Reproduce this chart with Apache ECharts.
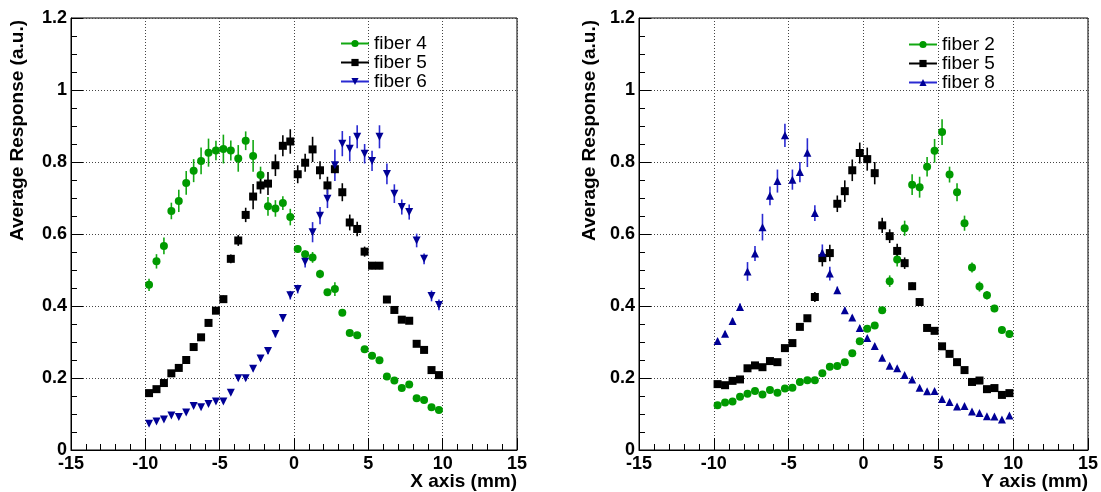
<!DOCTYPE html>
<html>
<head>
<meta charset="utf-8">
<script src="https://cdn.jsdelivr.net/npm/echarts@6/dist/echarts.min.js"></script>
<style>html,body{margin:0;padding:0;background:#fff;}#c{width:1101px;height:492px;}</style>
</head>
<body>
<div id="c"></div>
<script>
// positions (mm) of the measurement points
const xPos = [-9.75,-9.25,-8.75,-8.25,-7.75,-7.25,-6.75,-6.25,-5.75,-5.25,-4.75,-4.25,-3.75,-3.25,-2.75,-2.25,-1.75,-1.25,-0.75,-0.25,
              0.25,0.75,1.25,1.75,2.25,2.75,3.25,3.75,4.25,4.75,5.25,5.75,6.25,6.75,7.25,7.75,8.25,8.75,9.25,9.75];
const xTicks = [-15,-10,-5,0,5,10,15];
const yTicks = [0,0.2,0.4,0.6,0.8,1,1.2];

// Left panel (X scan)
const fiber4X = [0.459,0.524,0.567,0.664,0.692,0.742,0.776,0.803,0.826,0.832,0.836,0.832,0.810,0.859,0.817,0.764,0.677,0.671,0.686,0.647,
                 0.558,0.544,0.535,0.489,0.438,0.447,0.381,0.325,0.319,0.280,0.262,0.249,0.204,0.193,0.172,0.182,0.144,0.139,0.119,0.111];
const fiber4XErr = [0.017,0.020,0.023,0.023,0.031,0.033,0.032,0.037,0.039,0.027,0.040,0.028,0.037,0.026,0.044,0.023,0.026,0.023,0.019,0.023,
                    0.010,0.010,0.015,0.012,0.006,0.019,0.008,0.006,0.006,0.006,0.006,0.006,0.005,0.005,0.005,0.005,0.005,0.005,0.005,0.005];
const fiber5X = [0.158,0.169,0.186,0.213,0.228,0.250,0.286,0.313,0.353,0.387,0.419,0.531,0.582,0.653,0.704,0.735,0.740,0.791,0.845,0.857,
                 0.766,0.798,0.835,0.777,0.735,0.780,0.716,0.632,0.614,0.551,0.512,0.512,0.418,0.389,0.362,0.359,0.295,0.278,0.222,0.208];
const fiber5XErr = [0.005,0.005,0.005,0.006,0.006,0.006,0.007,0.007,0.008,0.009,0.010,0.012,0.015,0.020,0.035,0.023,0.032,0.030,0.029,0.034,
                    0.025,0.025,0.035,0.025,0.024,0.012,0.025,0.022,0.020,0.014,0.010,0.010,0.008,0.007,0.007,0.007,0.006,0.006,0.005,0.005];
const fiber6X = [0.073,0.079,0.085,0.096,0.092,0.104,0.122,0.119,0.128,0.135,0.135,0.159,0.199,0.199,0.226,0.254,0.275,0.322,0.367,0.430,
                 0.447,0.523,0.605,0.651,0.698,0.791,0.851,0.837,0.870,0.823,0.803,0.870,0.767,0.712,0.675,0.661,0.582,0.531,0.428,0.403];
const fiber6XErr = [0.004,0.004,0.004,0.004,0.004,0.004,0.005,0.005,0.005,0.005,0.005,0.006,0.006,0.006,0.007,0.007,0.008,0.009,0.010,0.012,
                    0.012,0.016,0.028,0.024,0.026,0.044,0.035,0.035,0.032,0.027,0.028,0.032,0.029,0.026,0.021,0.021,0.019,0.015,0.015,0.015];

// Right panel (Y scan)
const fiber2Y = [0.124,0.132,0.135,0.148,0.156,0.164,0.154,0.167,0.159,0.171,0.173,0.189,0.194,0.194,0.213,0.231,0.233,0.244,0.269,0.302,
                 0.337,0.346,0.388,0.469,0.529,0.616,0.737,0.730,0.787,0.831,0.883,0.765,0.716,0.630,0.507,0.454,0.430,0.393,0.333,0.322];
const fiber2YErr = [0.004,0.004,0.004,0.004,0.004,0.004,0.004,0.004,0.004,0.004,0.004,0.005,0.005,0.005,0.005,0.005,0.005,0.006,0.006,0.006,
                    0.007,0.007,0.008,0.016,0.019,0.021,0.029,0.029,0.027,0.033,0.036,0.022,0.025,0.021,0.014,0.014,0.012,0.010,0.010,0.010];
const fiber5Y = [0.183,0.180,0.192,0.196,0.227,0.235,0.230,0.247,0.244,0.283,0.297,0.342,0.366,0.425,0.533,0.547,0.684,0.719,0.777,0.825,
                 0.808,0.769,0.624,0.594,0.553,0.519,0.455,0.411,0.339,0.331,0.288,0.267,0.244,0.222,0.189,0.193,0.169,0.172,0.153,0.158];
const fiber5YErr = [0.005,0.005,0.005,0.005,0.006,0.006,0.006,0.006,0.006,0.007,0.007,0.008,0.009,0.014,0.023,0.023,0.023,0.030,0.030,0.029,
                    0.032,0.031,0.021,0.019,0.020,0.016,0.010,0.008,0.007,0.007,0.007,0.006,0.006,0.006,0.005,0.005,0.005,0.005,0.005,0.005];
const fiber8Y = [0.303,0.323,0.358,0.397,0.496,0.546,0.619,0.706,0.747,0.874,0.751,0.772,0.826,0.658,0.548,0.490,0.444,0.388,0.368,0.339,
                 0.311,0.289,0.256,0.234,0.227,0.208,0.196,0.173,0.163,0.164,0.142,0.133,0.121,0.122,0.107,0.103,0.094,0.093,0.085,0.096];
const fiber8YErr = [0.006,0.007,0.008,0.010,0.026,0.021,0.037,0.026,0.032,0.032,0.028,0.028,0.040,0.022,0.023,0.019,0.010,0.008,0.007,0.007,
                    0.006,0.006,0.006,0.005,0.005,0.005,0.005,0.005,0.005,0.004,0.004,0.004,0.004,0.004,0.004,0.004,0.004,0.004,0.004,0.004];

const GREEN = '#009a00', GREEN_E = '#12a812';
const BLUE = '#000096', BLUE_E = '#2a2ad2';
const BLACK = '#000000';
const FONT = '"Liberation Sans", Arial, Helvetica, sans-serif';

function pts(vals) { return xPos.map((x, i) => [x, vals[i]]); }
function errPts(vals, errs) { return xPos.map((x, i) => [x, vals[i], errs[i]]); }

function xAxisDef(gi) {
  return {
    gridIndex: gi, type: 'value', min: xTicks[0], max: xTicks[xTicks.length - 1], interval: 5,
    axisLine: { show: true, onZero: false, lineStyle: { color: '#000', width: 1 } },
    axisTick: { show: true, inside: true, length: 12, lineStyle: { color: '#000', width: 1 } },
    minorTick: { show: true, splitNumber: 5, length: 6, lineStyle: { color: '#000', width: 1 } },
    splitLine: { show: true, lineStyle: { color: '#444', width: 1, type: [1, 2] } },
    axisLabel: { color: '#000', fontFamily: FONT, fontWeight: 'bold', fontSize: 18, margin: 5 }
  };
}
function yAxisDef(gi) {
  return {
    gridIndex: gi, type: 'value', min: yTicks[0], max: yTicks[yTicks.length - 1], interval: 0.2,
    axisLine: { show: true, onZero: false, lineStyle: { color: '#000', width: 1 } },
    axisTick: { show: true, inside: true, length: 12, lineStyle: { color: '#000', width: 1 } },
    minorTick: { show: true, splitNumber: 4, length: 6, lineStyle: { color: '#000', width: 1 } },
    splitLine: { show: true, lineStyle: { color: '#444', width: 1, type: [1, 2] } },
    axisLabel: { color: '#000', fontFamily: FONT, fontWeight: 'bold', fontSize: 18, margin: 4,
                 padding: [5, 0, 0, 0] }
  };
}

function errSeries(name, gi, vals, errs, color) {
  return {
    name: name, type: 'custom', xAxisIndex: gi, yAxisIndex: gi, z: 2, silent: true,
    data: errPts(vals, errs),
    renderItem: function (params, api) {
      const x = api.value(0), y = api.value(1), e = api.value(2);
      const p1 = api.coord([x, y - e]);
      const p2 = api.coord([x, y + e]);
      return { type: 'line', shape: { x1: p1[0], y1: p1[1], x2: p2[0], y2: p2[1] },
               style: { stroke: color, lineWidth: 1.6 } };
    }
  };
}
function markSeries(name, gi, vals, color, symbol, size, rot, lineColor) {
  return {
    name: name, type: 'line', xAxisIndex: gi, yAxisIndex: gi, z: 3,
    data: pts(vals), symbol: symbol, symbolSize: size, symbolRotate: rot || 0,
    showAllSymbol: true, animation: false,
    lineStyle: { opacity: 0, width: 2, color: lineColor },
    itemStyle: { color: color, borderWidth: 0 },
    emphasis: { disabled: true }
  };
}

function legendDef(left, top, names) {
  return {
    orient: 'vertical', left: left, top: top, padding: 0, itemGap: 0,
    itemWidth: 28, itemHeight: 9, data: names,
    lineStyle: { opacity: 1, width: 2 },
    textStyle: { fontFamily: FONT, fontSize: 19, color: '#000', lineHeight: 18 },
    selectedMode: false
  };
}

const option = {
  animation: false,
  backgroundColor: '#fff',
  grid: [
    { left: 71, top: 18, width: 446, height: 432, show: true, borderColor: '#000', borderWidth: 1, backgroundColor: 'transparent' },
    { left: 639, top: 18, width: 449, height: 432, show: true, borderColor: '#000', borderWidth: 1, backgroundColor: 'transparent' }
  ],
  xAxis: [xAxisDef(0), xAxisDef(1)],
  yAxis: [yAxisDef(0), yAxisDef(1)],
  legend: [
    legendDef(340, 34, ['fiber 4', 'fiber 5', 'fiber 6']),
    legendDef(908, 35, ['fiber 2', 'fiber 5 ', 'fiber 8'])
  ],
  series: [
    errSeries('e4', 0, fiber4X, fiber4XErr, GREEN_E),
    errSeries('e5', 0, fiber5X, fiber5XErr, BLACK),
    errSeries('e6', 0, fiber6X, fiber6XErr, BLUE_E),
    markSeries('fiber 4', 0, fiber4X, GREEN, 'circle', 8, 0, GREEN_E),
    markSeries('fiber 5', 0, fiber5X, BLACK, 'rect', 8, 0, BLACK),
    markSeries('fiber 6', 0, fiber6X, BLUE, 'triangle', 8, 180, BLUE_E),
    errSeries('e2', 1, fiber2Y, fiber2YErr, GREEN_E),
    errSeries('e5b', 1, fiber5Y, fiber5YErr, BLACK),
    errSeries('e8', 1, fiber8Y, fiber8YErr, BLUE_E),
    markSeries('fiber 2', 1, fiber2Y, GREEN, 'circle', 8, 0, GREEN_E),
    markSeries('fiber 5 ', 1, fiber5Y, BLACK, 'rect', 8, 0, BLACK),
    markSeries('fiber 8', 1, fiber8Y, BLUE, 'triangle', 8, 0, BLUE_E)
  ],
  graphic: [
    { type: 'text', x: 18, y: 20, rotation: Math.PI / 2,
      style: { text: 'Average Response (a.u.)', font: 'bold 19px ' + FONT, fill: '#000', textAlign: 'right', textVerticalAlign: 'middle' } },
    { type: 'text', x: 590, y: 20, rotation: Math.PI / 2,
      style: { text: 'Average Response (a.u.)', font: 'bold 19px ' + FONT, fill: '#000', textAlign: 'right', textVerticalAlign: 'middle' } },
    { type: 'text', x: 517, y: 482,
      style: { text: 'X axis (mm)', font: 'bold 19px ' + FONT, fill: '#000', textAlign: 'right', textVerticalAlign: 'middle' } },
    { type: 'text', x: 1088, y: 482,
      style: { text: 'Y axis (mm)', font: 'bold 19px ' + FONT, fill: '#000', textAlign: 'right', textVerticalAlign: 'middle' } }
  ]
};

const chart = echarts.init(document.getElementById('c'), null, { renderer: 'canvas' });
chart.setOption(option);
</script>
</body>
</html>
